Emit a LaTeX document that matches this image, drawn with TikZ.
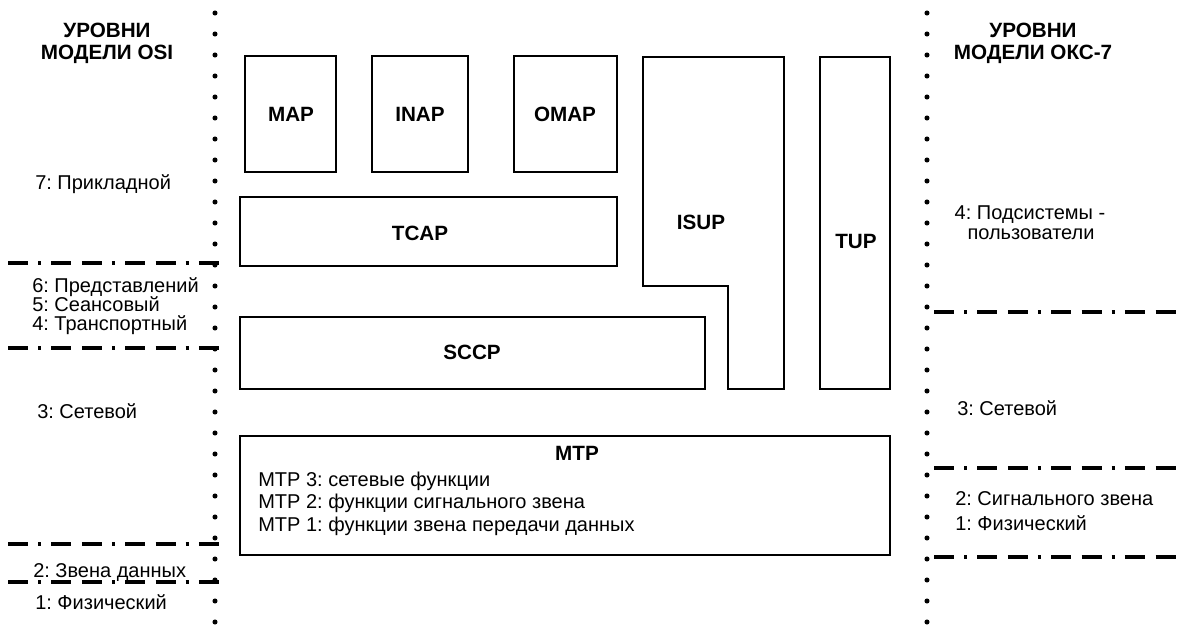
\documentclass[tikz,border=0pt]{standalone}
\usepackage{fontspec}
\setmainfont{Liberation Sans}
\frenchspacing
\tikzset{
  blok/.style={line width=0.9pt},
  levelline/.style={line width=2.8pt, dash pattern=on 15pt off 7.5pt on 2.4pt off 7.5pt on 15pt off 8pt},
  txt/.style={font=\fontsize{15}{16}\selectfont, inner sep=0pt, anchor=base west},
  hd/.style={font=\fontsize{15.5}{16}\selectfont\bfseries, inner sep=0pt},
}
\begin{document}
\begin{tikzpicture}[x=0.75pt,y=-0.75pt]
\useasboundingbox (0,0) rectangle (1179,625);
\foreach \k in {0,...,29}{
  \fill (215,13+21*\k) circle (1.9pt);
  \fill (927,13+21*\k) circle (1.9pt);
}
\foreach \y in {263,348,544,582}
  \draw[levelline] (8,\y) -- (223,\y);
\foreach \y in {312,468,557}
  \draw[levelline] (934,\y) -- (1179,\y);
\draw[blok] (245,56) rectangle (336,172);
\draw[blok] (372,56) rectangle (468,172);
\draw[blok] (514,56) rectangle (617,172);
\draw[blok] (240,197) rectangle (617,266);
\draw[blok] (643,57) -- (784,57) -- (784,389) -- (728,389) -- (728,286) -- (643,286) -- cycle;
\draw[blok] (820,57) rectangle (890,389);
\draw[blok] (240,317) rectangle (705,389);
\draw[blok] (240,436) rectangle (890,555);
\node[hd] (map) at (291,114) {MAP};
\node[hd] (inap) at (420,114) {INAP};
\node[hd] (omap) at (565,114) {OMAP};
\node[hd] (tcap) at (420,233) {TCAP};
\node[hd] (isup) at (701,222) {ISUP};
\node[hd] (tup) at (856,241) {TUP};
\node[hd] (sccp) at (472,352) {SCCP};
\node[hd] (mtp) at (577,453) {MTP};
\node[txt] (mtp3) at (258,486) {MTP 3: сетевые функции};
\node[txt] (mtp2) at (258,508) {MTP 2: функции сигнального звена};
\node[txt] (mtp1) at (258,531) {MTP 1: функции звена передачи данных};
\node[hd,anchor=base] (osia) at (107,37) {УРОВНИ};
\node[hd,anchor=base] (osib) at (107,59) {МОДЕЛИ OSI};
\node[hd,anchor=base] (oksa) at (1033,37) {УРОВНИ};
\node[hd,anchor=base] (oksb) at (1033,59) {МОДЕЛИ ОКС-7};
\node[txt] (o7) at (35,189) {7: Прикладной};
\node[txt] (o6) at (32,292) {6: Представлений};
\node[txt] (o5) at (32,311) {5: Сеансовый};
\node[txt] (o4) at (32,330) {4: Транспортный};
\node[txt] (o3) at (37,418) {3: Сетевой};
\node[txt] (o2) at (33,577) {2: Звена данных};
\node[txt] (o1) at (35,609) {1: Физический};
\node[txt,anchor=base] (k4a) at (1030,219) {4: Подсистемы -};
\node[txt,anchor=base] (k4b) at (1031,239) {пользователи};
\node[txt] (k3) at (957,415) {3: Сетевой};
\node[txt] (k2) at (955,505) {2: Сигнального звена};
\node[txt] (k1) at (955,530) {1: Физический};
\end{tikzpicture}
\end{document}
